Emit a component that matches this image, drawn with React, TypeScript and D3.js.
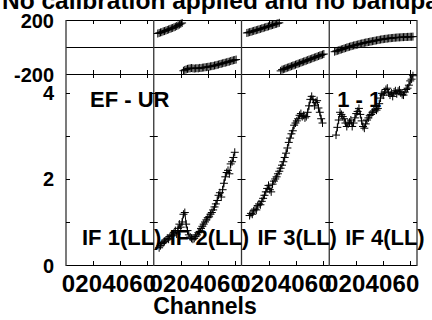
import React from "react";
import * as d3 from "d3";

const TITLE = "No calibration applied and no bandpass";
const IF_NAMES = ["IF 1(LL)", "IF 2(LL)", "IF 3(LL)", "IF 4(LL)"];
const CHANNEL_TICKS = [0, 20, 40, 60];
const PHASE_TICKS = [200, -200];
const AMP_TICKS = [0, 1, 2, 3, 4];
const AMP_LABELS = [0, 2, 4];
const BASELINE_LEFT = "EF - UR";
const BASELINE_RIGHT = "1 - 1";
const X_TITLE = "Channels";

// IF 1 is fully flagged (no data)
const if1AmpStart = 0;
const if1Amp: number[] = [];
const if1PhaseStart = 0;
const if1Phase: number[] = [];

const if2AmpStart = 4;
const if2Amp = [0.40, 0.45, 0.50, 0.52, 0.55, 0.58, 0.62, 0.60, 0.66, 0.70, 0.68, 0.75, 0.80, 0.72, 0.85, 0.95, 0.88, 1.00, 1.18, 1.22, 0.95, 0.80, 0.70, 0.65, 0.62, 0.60, 0.62, 0.66, 0.70, 0.75, 0.78, 0.85, 0.90, 0.95, 1.00, 1.05, 1.10, 1.12, 1.18, 1.22, 1.28, 1.35, 1.42, 1.50, 1.62, 1.68, 1.58, 1.75, 1.90, 2.05, 2.15, 2.20, 2.12, 2.35, 2.40, 2.50, 2.62];
const if2PhaseStart = 3;
const if2Phase = [100, 104, 108, 110, 116, 118, 122, 126, 130, 134, 138, 141, 146, 150, 155, 160, 166, 172, 178, -176, -170, -166, -162, -160, -158, -156, -158, -160, -158, -157, -158, -155, -156, -153, -152, -150, -149, -147, -146, -143, -142, -140, -137, -135, -132, -130, -126, -124, -121, -118, -116, -113, -110, -108, -104, -101, -98, -96, -93];

const if3AmpStart = 6;
const if3Amp = [1.15, 1.20, 1.18, 1.26, 1.30, 1.28, 1.38, 1.42, 1.40, 1.48, 1.55, 1.62, 1.70, 1.78, 1.85, 1.75, 1.70, 1.88, 1.95, 2.00, 2.05, 2.12, 2.18, 2.25, 2.32, 2.40, 2.50, 2.60, 2.72, 2.85, 2.95, 3.05, 3.12, 3.25, 3.30, 3.35, 3.40, 3.48, 3.52, 3.45, 3.48, 3.42, 3.45, 3.55, 3.70, 3.85, 3.92, 3.85, 3.70, 3.78, 3.82, 3.65, 3.55, 3.40, 3.30];
const if3PhaseStart = 4;
const if3Phase = [104, 107, 110, 112, 116, 119, 122, 125, 128, 131, 134, 138, 140, 144, 147, 150, 153, 157, 160, 163, 166, 170, 172, 176, 179, -177, -168, -165, -161, -157, -153, -150, -146, -142, -138, -135, -131, -127, -123, -120, -116, -112, -108, -105, -101, -97, -93, -90, -86, -82, -78, -75, -71, -67, -63, -60, -56, -52];

const if4AmpStart = 5;
const if4Amp = [3.02, 3.20, 3.37, 3.55, 3.50, 3.45, 3.40, 3.30, 3.22, 3.28, 3.32, 3.37, 3.22, 3.30, 3.42, 3.52, 3.57, 3.64, 3.50, 3.35, 3.22, 3.18, 3.28, 3.37, 3.42, 3.48, 3.50, 3.55, 3.58, 3.62, 3.60, 3.64, 3.75, 3.88, 3.99, 3.95, 4.02, 4.08, 4.11, 4.00, 3.95, 4.00, 3.92, 4.02, 4.05, 3.98, 4.04, 4.07, 4.00, 3.96, 3.95, 4.02, 4.08, 4.11, 4.18, 4.28, 4.32, 4.40];
const if4PhaseStart = 4;
const if4Phase = [-35, -31, -28, -25, -21, -18, -15, -11, -8, -4, -1, 2, 5, 8, 11, 13, 16, 18, 21, 24, 26, 28, 31, 33, 35, 37, 39, 41, 43, 45, 47, 49, 51, 53, 55, 57, 58, 60, 61, 62, 64, 65, 66, 67, 68, 69, 70, 71, 71, 72, 73, 73, 74, 74, 75, 75, 76, 76, 77];

const series = [
  { amp: if1Amp, ampStart: if1AmpStart, phase: if1Phase, phaseStart: if1PhaseStart },
  { amp: if2Amp, ampStart: if2AmpStart, phase: if2Phase, phaseStart: if2PhaseStart },
  { amp: if3Amp, ampStart: if3AmpStart, phase: if3Phase, phaseStart: if3PhaseStart },
  { amp: if4Amp, ampStart: if4AmpStart, phase: if4Phase, phaseStart: if4PhaseStart },
];

const W = 432;
const H = 320;
const LEFT = 66;
const RIGHT = 417;
const TOP = 20;
const MID = 74;
const BOTTOM = 265;
const FONT = "'Liberation Sans', Arial, Helvetica, sans-serif";

export default function App() {
  const outer = d3.scaleBand<string>().domain(IF_NAMES).range([LEFT, RIGHT]).padding(0);
  const bw = outer.bandwidth();
  const xCh = d3.scaleLinear().domain([0, 65]).range([0, bw]);
  const yPh = d3.scaleLinear().domain([-200, 200]).range([MID, TOP]);
  const yAmp = d3.scaleLinear().domain([0, 4.44]).range([BOTTOM, MID]);
  const tl = 4;
  const plus = "M-4,0H4M0,-4V4";

  const boundaries = IF_NAMES.map((n) => outer(n)!).concat([RIGHT]);

  return (
    <svg width={W} height={H} style={{ position: "absolute", left: 0, top: 0, background: "#fff" }} fontFamily={FONT} fontWeight="bold">
      <rect x={0} y={0} width={W} height={H} fill="#fff" />
      {/* title */}
      <text x={2} y={9} fontSize={24.5}>{TITLE}</text>

      {/* frames */}
      <g stroke="#000" strokeWidth={1} fill="none">
        <line x1={LEFT} x2={RIGHT} y1={TOP + 0.5} y2={TOP + 0.5} />
        <line x1={LEFT} x2={RIGHT} y1={yPh(0) + 0.5} y2={yPh(0) + 0.5} />
        <line x1={LEFT} x2={RIGHT} y1={MID + 0.5} y2={MID + 0.5} />
        <line x1={LEFT} x2={RIGHT} y1={BOTTOM + 0.5} y2={BOTTOM + 0.5} />
        {boundaries.map((bx, i) => (
          <line key={i} x1={bx} x2={bx} y1={TOP} y2={BOTTOM + 1} strokeWidth={1.3} stroke="#333" />
        ))}
        {IF_NAMES.map((n) => {
          const x0 = outer(n)!;
          return CHANNEL_TICKS.filter((t) => t > 0).map((t) => {
            const x = Math.round(x0 + xCh(t)) + 0.5;
            return (
              <g key={n + t}>
                <line x1={x} x2={x} y1={TOP} y2={TOP + tl} />
                <line x1={x} x2={x} y1={MID - tl} y2={MID + tl} />
                <line x1={x} x2={x} y1={BOTTOM - tl} y2={BOTTOM} />
              </g>
            );
          });
        })}
        {AMP_TICKS.filter((t) => t > 0).map((t) => {
          const y = Math.round(yAmp(t)) + 0.5;
          return boundaries.map((bx, i) => (
            <line key={t + "-" + i} x1={i === 0 ? bx : bx - tl} x2={i === boundaries.length - 1 ? bx : bx + tl} y1={y} y2={y} />
          ));
        })}
      </g>

      {/* y tick labels */}
      <g fontSize={20} textAnchor="end">
        {PHASE_TICKS.map((t) => (
          <text key={"p" + t} x={54} y={yPh(t) + 7.5}>{t}</text>
        ))}
        {AMP_LABELS.map((t) => (
          <text key={"a" + t} x={54} y={yAmp(t) + 7.5}>{t}</text>
        ))}
      </g>

      {/* x tick labels */}
      <g fontSize={24} textAnchor="end">
        {IF_NAMES.map((n) =>
          CHANNEL_TICKS.map((t) => (
            <text key={n + t} x={outer(n)! + xCh(t) + 9} y={292}>{t}</text>
          ))
        )}
      </g>
      <text x={205} y={314} fontSize={23} textAnchor="middle">{X_TITLE}</text>

      {/* panel labels */}
      <g fontSize={22}>
        {IF_NAMES.map((n) => (
          <text key={n} x={outer(n)! + 16} y={245}>{n}</text>
        ))}
        <text x={outer(IF_NAMES[0])! + 24} y={107}>{BASELINE_LEFT}</text>
        <text x={outer(IF_NAMES[3])! + 8} y={107}>{BASELINE_RIGHT}</text>
      </g>

      {/* data */}
      {series.map((s, i) => {
        const x0 = outer(IF_NAMES[i])!;
        const ampPts: [number, number][] = s.amp.map((v, k) => [x0 + xCh(s.ampStart + k), yAmp(v)]);
        const phPts: [number, number][] = s.phase.map((v, k) => [x0 + xCh(s.phaseStart + k), yPh(v)]);
        const line = d3.line();
        return (
          <g key={i} stroke="#000" fill="none" strokeWidth={1}>
            {ampPts.length > 0 && <path d={line(ampPts)!} />}
            {ampPts.map((p, k) => (
              <path key={"a" + k} d={plus} transform={`translate(${p[0]},${p[1]})`} />
            ))}
            {phPts.map((p, k) => (
              <path key={"p" + k} d={plus} transform={`translate(${p[0]},${p[1]})`} />
            ))}
          </g>
        );
      })}
    </svg>
  );
}
